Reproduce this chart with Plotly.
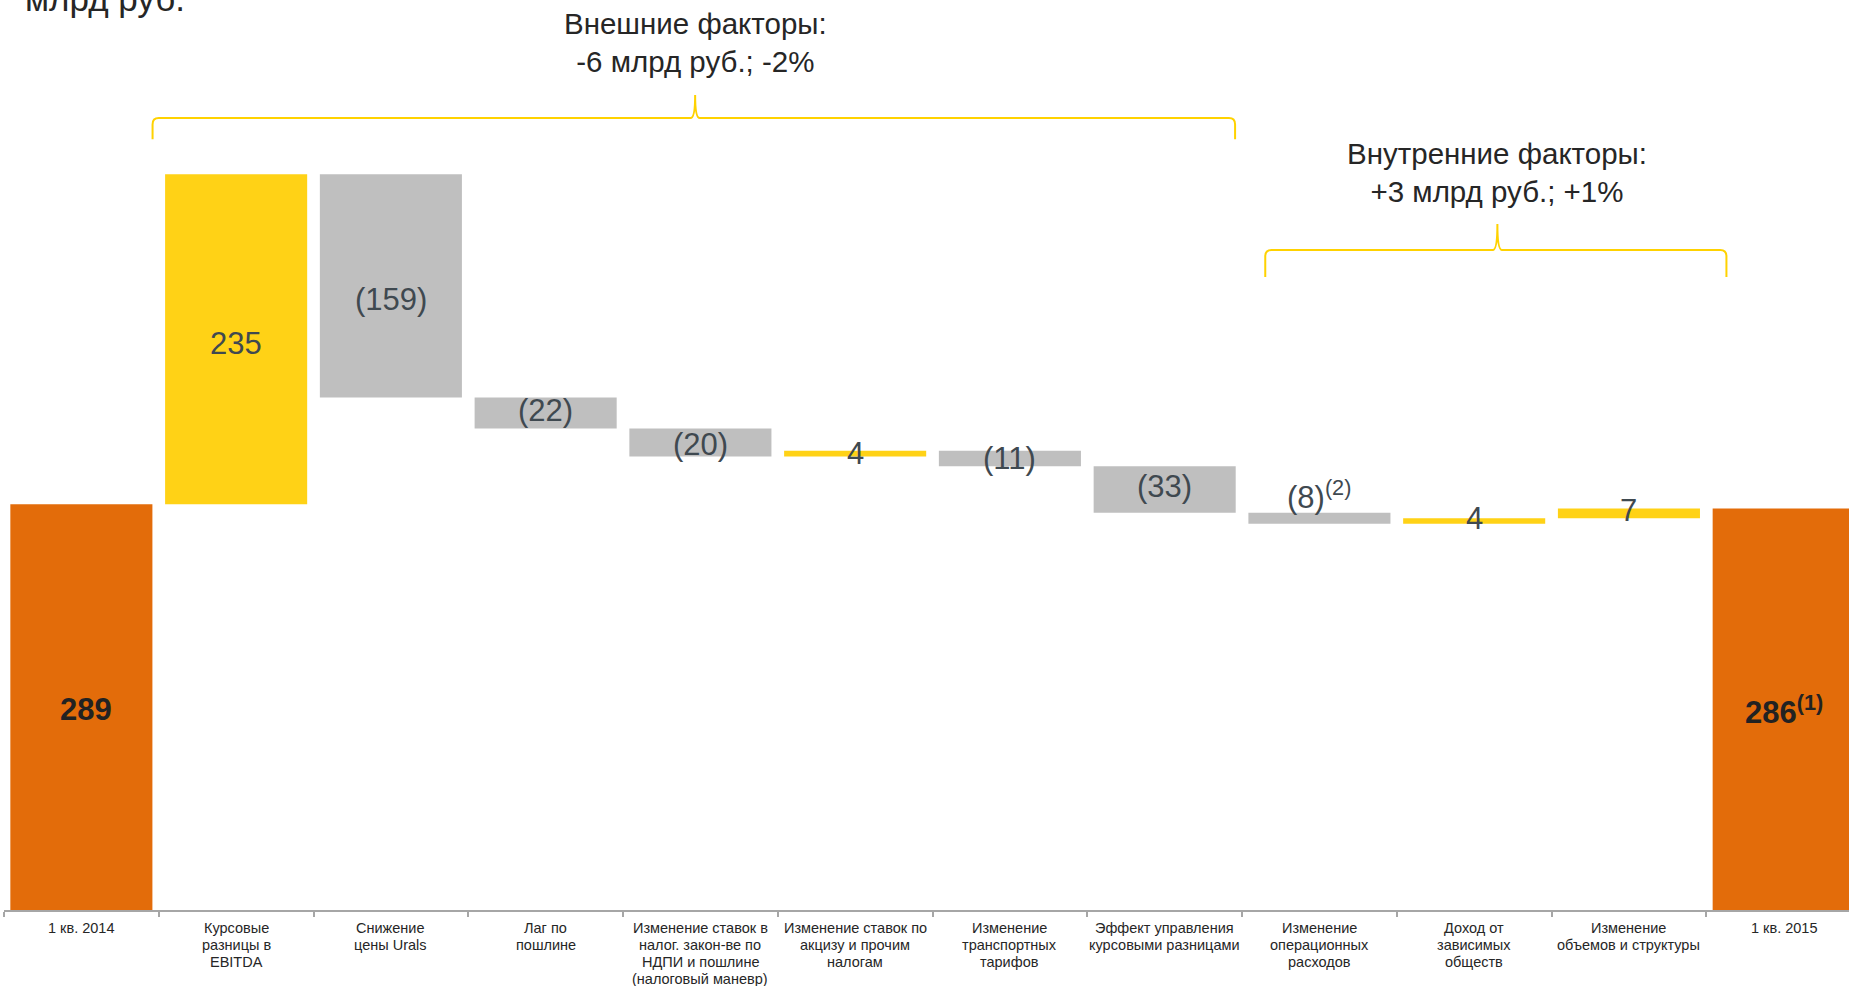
import plotly.graph_objects as go

# ---- data -----------------------------------------------------------------
categories = [
    "1 кв. 2014",
    "Курсовые\nразницы в\nEBITDA",
    "Снижение\nцены Urals",
    "Лаг по\nпошлине",
    "Изменение ставок в\nналог. закон-ве по\nНДПИ и пошлине\n(налоговый маневр)",
    "Изменение ставок по\nакцизу и прочим\nналогам",
    "Изменение\nтранспортных\nтарифов",
    "Эффект управления\nкурсовыми разницами",
    "Изменение\nоперационных\nрасходов",
    "Доход от\nзависимых\nобществ",
    "Изменение\nобъемов и структуры",
    "1 кв. 2015",
]
start_value = 289
changes = [235, -159, -22, -20, 4, -11, -33, -8, 4, 7]
footnotes = {8: "(2)", 11: "(1)"}

group_titles = ["Внешние факторы:<br>-6 млрд руб.; -2%",
                "Внутренние факторы:<br>+3 млрд руб.; +1%"]
unit_title = "млрд руб."

# ---- derived series ---------------------------------------------------------
values = [start_value] + changes + [0]
measures = ["absolute"] + ["relative"] * len(changes) + ["total"]
end_value = start_value + sum(changes)

# bar extents for label placement
lows, highs = [], []
level = 0
for i, (m, v) in enumerate(zip(measures, values)):
    if m == "absolute":
        lows.append(0); highs.append(v); level = v
    elif m == "total":
        lows.append(0); highs.append(level)
    else:
        lows.append(min(level, level + v)); highs.append(max(level, level + v))
        level += v


def fmt(i):
    if measures[i] == "total":
        v = end_value
    else:
        v = values[i]
    txt = str(v) if v >= 0 else f"({abs(v)})"
    if i in footnotes:
        txt += f"<sup>{footnotes[i]}</sup>"
    if measures[i] in ("absolute", "total"):
        txt = f"<b>{txt}</b>"
    return txt


FONT = "Liberation Sans, Arial, sans-serif"
ORANGE = "#E36C0A"
YELLOW = "#FFD216"
GREY = "#BFBFBF"
BRACE = "#FFD200"

x_keys = list(range(len(categories)))

fig = go.Figure(go.Waterfall(
    x=x_keys,
    y=values,
    measure=measures,
    increasing=dict(marker=dict(color=YELLOW, line=dict(width=0))),
    decreasing=dict(marker=dict(color=GREY, line=dict(width=0))),
    totals=dict(marker=dict(color=ORANGE, line=dict(width=0))),
    connector=dict(visible=False),
    textposition="none",
    hoverinfo="skip",
))

annotations = []

# value labels (pixel nudges per bar)
label_yshift = {0: -2, 1: -4, 2: -14, 3: 2, 4: -2, 5: 0, 6: 0, 7: 3,
                8: 23, 9: 3, 10: 3, 11: -1}
label_xshift = {0: 5}
for i in x_keys:
    total_bar = measures[i] in ("absolute", "total")
    annotations.append(dict(
        x=i, y=(lows[i] + highs[i]) / 2, xref="x", yref="y",
        text=fmt(i), showarrow=False, yanchor="middle",
        yshift=label_yshift.get(i, 0), xshift=label_xshift.get(i, 0),
        font=dict(family=FONT, size=31,
                  color="#222222" if total_bar else "#3F4950"),
    ))

# category labels, one annotation per line
for i, name in enumerate(categories):
    for j, line in enumerate(name.split("\n")):
        annotations.append(dict(
            x=i, y=0, xref="x", yref="paper", text=line, showarrow=False,
            yanchor="middle", yshift=-(18 + j * 16.9),
            font=dict(family=FONT, size=14.5, color="#262626"),
        ))

# group braces and their captions
braces = [
    dict(x0=0.46, x1=7.455, xm=3.966, yh=564, ytop=580.5, yend=549, ty=617.5),
    dict(x0=7.65, x1=10.63, xm=9.15, yh=470, ytop=488.6, yend=450.8, ty=525),
]
shapes = []
rx, ry, px = 0.04, 4.5, 0.03
for b, title in zip(braces, group_titles):
    path = (f"M {b['x0']},{b['yend']} L {b['x0']},{b['yh'] - ry} "
            f"Q {b['x0']},{b['yh']} {b['x0'] + rx},{b['yh']} "
            f"L {b['xm'] - px},{b['yh']} "
            f"Q {b['xm']},{b['yh']} {b['xm']},{b['ytop']} "
            f"Q {b['xm']},{b['yh']} {b['xm'] + px},{b['yh']} "
            f"L {b['x1'] - rx},{b['yh']} "
            f"Q {b['x1']},{b['yh']} {b['x1']},{b['yh'] - ry} "
            f"L {b['x1']},{b['yend']}")
    shapes.append(dict(type="path", path=path, xref="x", yref="y",
                       line=dict(color=BRACE, width=2)))
    annotations.append(dict(
        x=b["xm"], y=b["ty"], xref="x", yref="y", text=title,
        showarrow=False, yanchor="middle",
        font=dict(family=FONT, size=29.5, color="#262626"),
    ))

# unit caption in the top-left corner
annotations.append(dict(
    x=0.0103, y=1, xref="paper", yref="paper", text=unit_title,
    showarrow=False, xanchor="left", yanchor="middle", yshift=2,
    font=dict(family=FONT, size=35, color="#262626"),
))

fig.update_layout(
    width=1849, height=986,
    margin=dict(l=4, r=0, t=0, b=76),
    paper_bgcolor="white", plot_bgcolor="white",
    waterfallgap=0.082,
    showlegend=False,
    annotations=annotations,
    shapes=shapes,
    xaxis=dict(
        type="category", range=[-0.5, 11.422], tickson="boundaries",
        ticks="outside", ticklen=5, tickcolor="#A6A6A6", tickwidth=1.5,
        showline=True, linecolor="#A6A6A6", linewidth=1.5,
        showticklabels=False, showgrid=False, zeroline=False, fixedrange=True,
    ),
    yaxis=dict(visible=False, range=[0, 648.1], fixedrange=True),
)

fig.write_html("out.html", config={"displayModeBar": False})
